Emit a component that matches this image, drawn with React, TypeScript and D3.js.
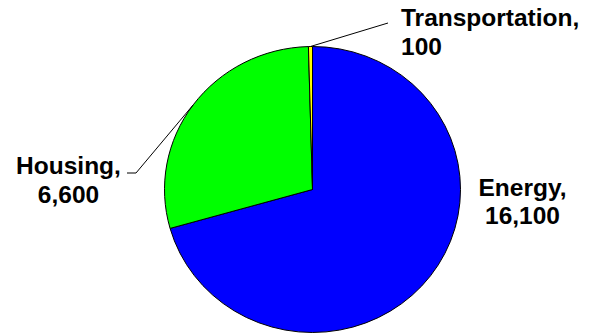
import React from "react";
import * as d3 from "d3";

const categories = ["Energy", "Housing", "Transportation"];
const values = [16100, 6600, 100];
const colors = ["#0000FF", "#00FF00", "#FFFF00"];
const valueLabels = ["16,100", "6,600", "100"];

const W = 591;
const H = 335;
const cx = 312.5;
const cy = 189.5;
const rx = 148;
const ry = 143;

// label layout: anchor x, first baseline, text-anchor
const labelLayout = [
  { x: 522.5, y: 195.5, anchor: "middle", leader: null as null | number[][] },
  { x: 68.5, y: 174, anchor: "middle", leader: [[127, 173], [136, 173]] },
  { x: 401, y: 26, anchor: "start", leader: [[388, 23]] },
];

export default function App() {
  const pie = d3
    .pie<number>()
    .sort(null)
    .startAngle(0)
    .endAngle(2 * Math.PI)(values);
  const arc = d3.arc<d3.PieArcDatum<number>>().innerRadius(0).outerRadius(rx);
  const sy = ry / rx;

  return (
    <svg
      width={W}
      height={H}
      style={{ position: "absolute", left: 0, top: 0, background: "#fff" }}
      fontFamily="'Liberation Sans', Arial, sans-serif"
    >
      <g transform={`translate(${cx},${cy}) scale(1,${sy})`}>
        {pie.map((d, i) => (
          <path
            key={categories[i]}
            d={arc(d) || ""}
            fill={colors[i]}
            stroke="#000"
            strokeWidth={1}
            vectorEffect="non-scaling-stroke"
          />
        ))}
      </g>
      {pie.map((d, i) => {
        const L = labelLayout[i];
        if (!L.leader) return null;
        const mid = (d.startAngle + d.endAngle) / 2;
        const ex = cx + rx * Math.sin(mid);
        const ey = cy - ry * Math.cos(mid);
        const pts = [...L.leader, [ex, ey]];
        const line = d3.line()(pts as [number, number][]);
        return (
          <path
            key={"l" + i}
            d={line || ""}
            fill="none"
            stroke="#000"
            strokeWidth={1}
          />
        );
      })}
      {categories.map((c, i) => {
        const L = labelLayout[i];
        return (
          <text
            key={"t" + c}
            x={L.x}
            y={L.y}
            textAnchor={L.anchor}
            fontSize={24.5}
            fontWeight="bold"
            fill="#000"
          >
            <tspan x={L.x}>{c},</tspan>
            <tspan x={L.x} dy={28.5}>
              {valueLabels[i]}
            </tspan>
          </text>
        );
      })}
    </svg>
  );
}
